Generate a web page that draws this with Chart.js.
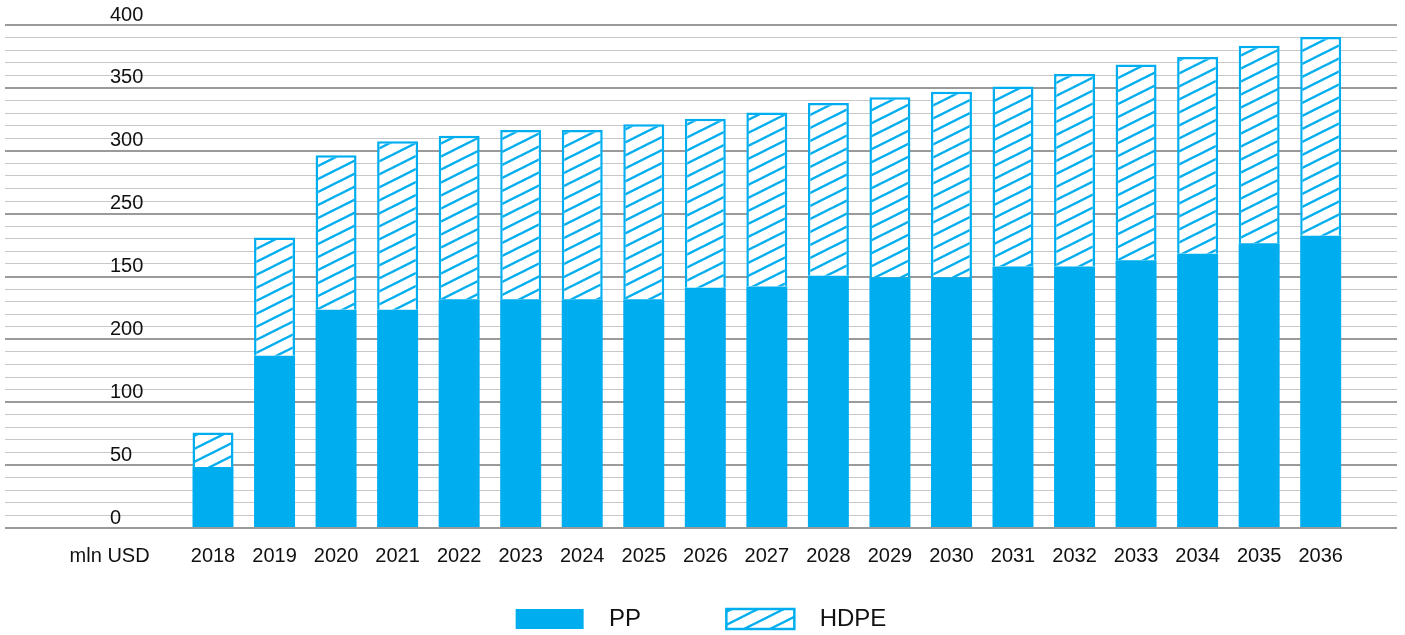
<!DOCTYPE html>
<html><head><meta charset="utf-8">
<script src="https://cdn.jsdelivr.net/npm/chart.js@4.4.0/dist/chart.umd.min.js"></script>
<style>html,body{margin:0;padding:0;background:#fff;}#wrap{width:1405px;height:635px;}</style>
</head><body><div id="wrap"><canvas id="c" width="1405" height="635"></canvas></div>
<script>
const years = [2018,2019,2020,2021,2022,2023,2024,2025,2026,2027,2028,2029,2030,2031,2032,2033,2034,2035,2036];
const ppValues = [48.5,137,173.5,173.5,182,182,182,182,191,192,200.5,199.5,199.5,208,208,213,218,226.5,232.5];
const hdpeValues = [27.5,94,123,134,130,134.5,134.5,139,134.5,138.5,137.5,143,147.5,143,153,155.5,156.5,157,158];
const yTickLabels = ['0','50','100','200','150','250','300','350','400'];
const unitLabel = 'mln USD';
const unitLabelPos = 2016.32;
const xTickValues = [unitLabelPos].concat(years);
const xTickLabels = [unitLabel].concat(years.map(String));
const seriesNames = ['PP','HDPE'];

const CYAN = '#00aeef';
const FONT = '"Liberation Sans", Arial, Helvetica, sans-serif';

function makeHatch(){
  const W = 26, H = 13;
  const c = document.createElement('canvas');
  c.width = W; c.height = H;
  const g = c.getContext('2d');
  g.fillStyle = '#fff'; g.fillRect(0,0,W,H);
  g.strokeStyle = CYAN; g.lineWidth = 2.4;
  for (let n=-1;n<=1;n++){
    g.beginPath(); g.moveTo(-2, H + n*H + 1); g.lineTo(W+2, n*H - 1); g.stroke();
  }
  return g.createPattern(c,'repeat');
}
const hatch = makeHatch();

const legendTexts = ['  ' + seriesNames[0] + ' '.repeat(11), '  ' + seriesNames[1]];

new Chart(document.getElementById('c'), {
  type: 'bar',
  data: {
    datasets: [
      { label: seriesNames[0], data: years.map((y,i)=>({x:y, y:ppValues[i]})),
        backgroundColor: CYAN, borderWidth: 0 },
      { label: seriesNames[1], data: years.map((y,i)=>({x:y, y:hdpeValues[i]})),
        backgroundColor: hatch, borderColor: CYAN, borderWidth: 2.5 }
    ]
  },
  options: {
    responsive: false,
    animation: false,
    devicePixelRatio: 1,
    layout: { padding: { left: 5, right: 8, top: 25, bottom: 0 } },
    datasets: { bar: { barPercentage: 0.666, categoryPercentage: 1 } },
    scales: {
      x: {
        type: 'linear', stacked: true, offset: false,
        min: 2014.62, max: 2037.24,
        grid: { display: false, drawTicks: false },
        border: { display: false },
        afterBuildTicks: (axis) => { axis.ticks = xTickValues.map(v => ({ value: v })); },
        afterFit: (axis) => { axis.height = 67; axis.paddingLeft = 0; axis.paddingRight = 0; },
        ticks: {
          autoSkip: false, maxRotation: 0, minRotation: 0, padding: 16,
          color: '#111', font: { family: FONT, size: 20 },
          callback: (v, i) => xTickLabels[i]
        }
      },
      y: {
        stacked: true, min: 0, max: 400,
        border: { display: false },
        grid: {
          drawTicks: false,
          color: (ctx) => (Math.round(ctx.tick.value) % 50 === 0 ? '#9a9a9a' : '#c8c8c8'),
          lineWidth: (ctx) => (Math.round(ctx.tick.value) % 50 === 0 ? 2 : 1)
        },
        afterFit: (axis) => { axis.width = 0; axis.paddingTop = 0; axis.paddingBottom = 0; },
        ticks: {
          stepSize: 10, autoSkip: false, mirror: true, padding: 105, labelOffset: -10,
          color: '#111', font: { family: FONT, size: 20 },
          callback: (v) => { const r = Math.round(v); return r % 50 === 0 ? yTickLabels[r/50] : ''; }
        }
      }
    },
    plugins: {
      tooltip: { enabled: false },
      legend: {
        position: 'bottom', maxHeight: 40,
        labels: {
          boxWidth: 68, boxHeight: 20, padding: 12,
          color: '#111', font: { family: FONT, size: 24 },
          generateLabels: (chart) => {
            const items = Chart.defaults.plugins.legend.labels.generateLabels(chart);
            items.forEach((it, i) => { it.text = legendTexts[i]; });
            return items;
          }
        }
      }
    }
  }
});
</script>
</body></html>
